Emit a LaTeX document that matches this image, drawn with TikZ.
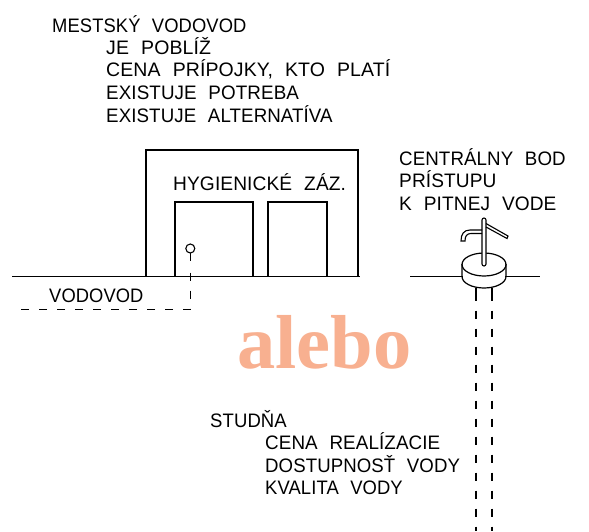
\documentclass[tikz,border=0pt]{standalone}
\usepackage{graphicx}
\usepackage{fontspec}
\setmainfont{Liberation Sans}[WordSpace=2.2,LetterSpace=0.5]
\newfontfamily\bigserif{Liberation Serif}
\definecolor{salmon}{RGB}{248,176,144}
\newcommand{\sx}[2]{\scalebox{#1}[1]{#2}}
\tikzset{x=1pt,y=-1pt,
 lbl/.style={anchor=base west,inner sep=0pt,font=\fontsize{19.5}{21}\selectfont},
 ln/.style={line width=1.2pt,black},
 thin ln/.style={line width=1.1pt,black},
 dash ln/.style={line width=1.1pt,dash pattern=on 8pt off 10pt}}
\begin{document}
\begin{tikzpicture}
\useasboundingbox (0,0) rectangle (589,531);
\node[lbl] (t1) at (52,32) {\sx{.942}{MESTSKÝ VODOVOD}};
\node[lbl] (t2) at (106,54) {JE POBLÍŽ};
\node[lbl] (t3) at (106,76) {CENA PRÍPOJKY, KTO PLATÍ};
\node[lbl] (t4) at (106,99) {\sx{.965}{EXISTUJE POTREBA}};
\node[lbl] (t5) at (106,122) {\sx{.96}{EXISTUJE ALTERNATÍVA}};
\node[lbl] (h) at (173,190) {\sx{.983}{HYGIENICKÉ ZÁZ.}};
\node[lbl] (c1) at (399,165) {\sx{.96}{CENTRÁLNY BOD}};
\node[lbl] (c2) at (399,187) {\sx{.98}{PRÍSTUPU}};
\node[lbl] (c3) at (399,210) {\sx{.98}{K PITNEJ VODE}};
\node[lbl] (v) at (49,302) {\sx{.94}{VODOVOD}};
\node[lbl] (s1) at (210,427) {\sx{.95}{STUDŇA}};
\node[lbl] (s2) at (265,449) {\sx{.966}{CENA REALÍZACIE}};
\node[lbl] (s3) at (265,472) {\sx{.955}{DOSTUPNOSŤ VODY}};
\node[lbl] (s4) at (265,494) {\sx{.945}{KVALITA VODY}};
\node[anchor=base west,inner sep=0pt,text=salmon,font=\bigserif\fontsize{76.5}{76.5}\selectfont\bfseries] (a) at (237,368.5) {alebo};
% building
\draw[ln] (12,276.5) -- (360,276.5);
\draw[ln] (146,276.5) -- (146,150) -- (358,150) -- (358,276.5);
\draw[ln] (175,276.5) -- (175,202) -- (253,202) -- (253,276.5);
\draw[ln] (268,276.5) -- (268,202) -- (327,202) -- (327,276.5);
\draw[thin ln] (190.3,248.5) circle (4.5);
\draw[thin ln] (190.3,253) -- (190.3,261);
\draw[dash ln] (190.3,272.5) -- (190.3,309.3) -- (21,309.3);
% well
\draw[ln] (410,276.5) -- (463,276.5);
\draw[ln] (505,276.5) -- (540,276.5);
\draw[ln] (462,264) -- (462,276.5) arc[start angle=180,end angle=0,x radius=22,y radius=11.5] -- (506,264);
\draw[ln] (484,264.5) ellipse[x radius=22,y radius=11.5];
\draw[thin ln,fill=white] (482,264) -- (482,220) arc[start angle=180,end angle=360,radius=2] -- (486,264) arc[start angle=0,end angle=180,radius=2];
\draw[thin ln] (486,223.5) -- (508,236) -- (507,238.5) -- (486,227);
\draw[thin ln] (482,230) -- (470,230) .. controls (464,230) and (461,234) .. (461,241) -- (465,241) .. controls (465,236) and (467,233.5) .. (471,233.5) -- (482,233.5);
\draw[thin ln] (476,288) -- (476,300.7);
\draw[thin ln] (492,288) -- (492,300.7);
\draw[dash ln] (476,310.7) -- (476,531);
\draw[dash ln] (492,310.7) -- (492,531);
\end{tikzpicture}
\end{document}
